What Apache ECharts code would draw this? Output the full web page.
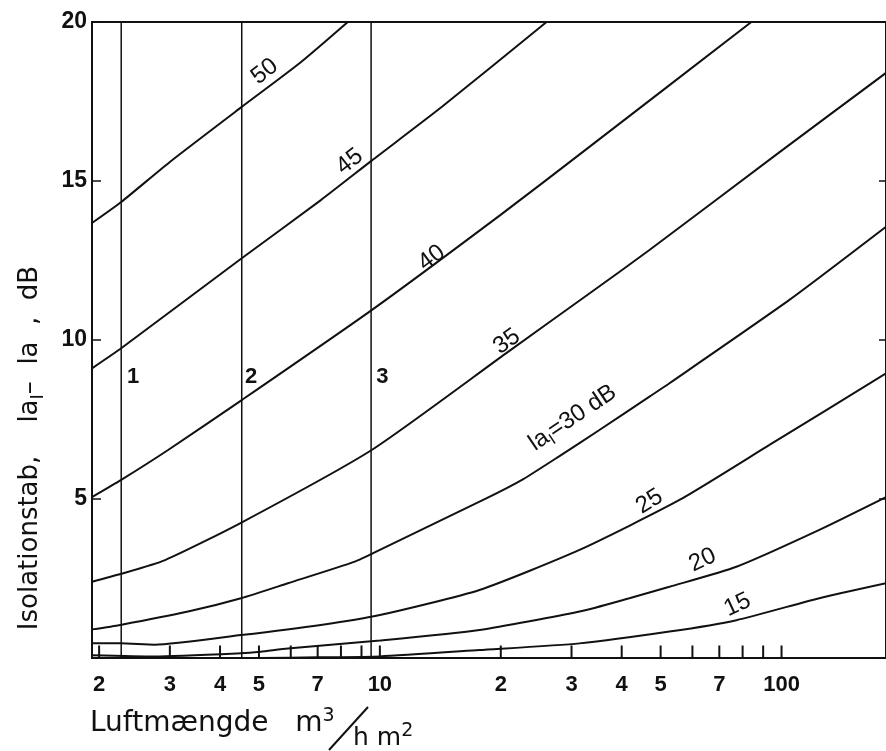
<!DOCTYPE html>
<html><head><meta charset="utf-8">
<script src="https://cdn.jsdelivr.net/npm/echarts@6/dist/echarts.min.js"></script>
<style>html,body{margin:0;padding:0;background:#fff}#c{width:886px;height:751px}</style>
</head><body><div id="c"></div>
<script>
// axis ranges
const xMin = 1.92, xMax = 182;
const yMin = 0, yMax = 20, yStep = 5;

// curves: [air amount m3/(h m2), insulation loss dB]
const curve50 = [[1.92,13.68],[2.27,14.34],[3.0,15.6],[4.53,17.33],[6.32,18.71],[8.32,20.0]];
const curve45 = [[1.92,9.11],[2.27,9.74],[4.53,12.57],[7.13,14.40],[9.54,15.64],[14.3,17.34],[26.0,20.0]];
const curve40 = [[1.92,5.06],[2.27,5.60],[2.97,6.54],[4.53,8.11],[9.54,10.94],[19.9,13.92],[33.3,16.08],[84.1,20.0]];
const curve35 = [[1.92,2.40],[2.26,2.64],[2.92,3.08],[4.51,4.25],[9.54,6.54],[20.6,9.58],[33.3,11.47],[46.9,12.83],[98.7,15.9],[182,18.4]];
const curve30 = [[1.92,0.90],[2.26,1.04],[3.33,1.46],[4.51,1.88],[5.90,2.35],[8.66,3.03],[10.0,3.40],[18.4,5.02],[22.7,5.62],[28.0,6.35],[35.2,7.17],[46.9,8.22],[52.6,8.64],[104.6,11.26],[182,13.56]];
const curve25 = [[1.92,0.46],[2.26,0.46],[2.75,0.42],[4.51,0.72],[7.13,1.04],[10.0,1.35],[17.7,2.14],[31.4,3.40],[55.7,4.97],[93.3,6.70],[182,8.95]];
const curve20 = [[1.92,0.09],[2.75,0.05],[4.51,0.15],[5.05,0.20],[5.90,0.30],[10.0,0.55],[17.7,0.88],[31.4,1.46],[41.8,1.88],[52.6,2.24],[77.2,2.87],[124.2,4.03],[182,5.06]];
const curve15 = [[5.0,0.0],[7.0,0.02],[10.0,0.05],[17.7,0.25],[31.4,0.46],[52.6,0.83],[77.2,1.19],[124.2,1.88],[182,2.35]];
const curves = [curve50, curve45, curve40, curve35, curve30, curve25, curve20, curve15];

// curve labels
const curveLabelText = ['50','45','40','35','{t|la}{s|I}{t|=30 dB}','25','20','15'];
const curveLabelX = [5.17, 8.41, 13.46, 20.7, 30.2, 46.9, 63.6, 77.7];
const curveLabelY = [18.44, 15.61, 12.58, 9.95, 7.55, 4.92, 3.08, 1.67];
const curveLabelAngle = [38, 38, 37, 36, 34, 32, 25, 25];

// vertical reference lines 1, 2, 3
const refLineX = [2.27, 4.53, 9.51];
const refLineText = ['1','2','3'];
const refLabelX = [2.43, 4.78, 10.14];
const refLabelY = 8.85;

// x-axis tick marks and labels
const tickValues = [2,3,4,5,6,7,8,9,10,20,30,40,50,60,70,80,90,100];
const tickText = ['2','3','4','5','','7','','','10','2','3','4','5','','7','','','100'];

const INK = '#111';
const chart = echarts.init(document.getElementById('c'), null, {renderer:'canvas'});

const series = [];
curves.forEach((c, i) => {
  series.push({type:'line', data:c, showSymbol:false, smooth:0.2,
    lineStyle:{color:INK, width:2}, silent:true, z:3});
});
refLineX.forEach(x => {
  series.push({type:'line', data:[[x,yMin],[x,yMax]], showSymbol:false,
    lineStyle:{color:INK, width:1.5}, silent:true, z:2});
});
series.push({
  type:'scatter', symbolSize:1, itemStyle:{color:'rgba(0,0,0,0)', opacity:1}, silent:true, z:5,
  data: curveLabelX.map((x,i)=>({value:[x, curveLabelY[i]],
    label:{rotate:curveLabelAngle[i]}})),
  label:{show:true, position:'inside', color:INK, fontSize:24, fontFamily:'Liberation Sans',
    formatter:p=>curveLabelText[p.dataIndex],
    rich:{t:{fontSize:24, fontFamily:'Liberation Sans', color:INK},
          s:{fontSize:16, fontFamily:'Liberation Sans', color:INK, padding:[14,0,0,0]}}}
});
series.push({
  type:'scatter', symbolSize:1, itemStyle:{color:'rgba(0,0,0,0)', opacity:1}, silent:true, z:5,
  data: refLabelX.map(x=>[x, refLabelY]),
  label:{show:true, position:'inside', color:INK, fontSize:22, fontWeight:'bold',
    fontFamily:'Liberation Sans', formatter:p=>refLineText[p.dataIndex]}
});
series.push({
  type:'scatter', symbol:'rect', symbolSize:[2,13], symbolOffset:[0,-6], clip:false,
  itemStyle:{color:INK, opacity:1}, silent:true, z:4,
  data: tickValues.map(v=>[v,0]),
  label:{show:true, position:'bottom', distance:15, color:INK, fontSize:22, fontWeight:'bold',
    fontFamily:'Liberation Sans', formatter:p=>tickText[p.dataIndex]}
});

chart.setOption({
  animation:false,
  backgroundColor:'#fff',
  grid:{left:92, top:22, right:-1, bottom:93, show:true, borderColor:INK, borderWidth:2,
    backgroundColor:'transparent', containLabel:false},
  xAxis:{type:'log', logBase:10, min:xMin, max:xMax,
    axisLine:{show:false}, axisTick:{show:false}, axisLabel:{show:false}, splitLine:{show:false}},
  yAxis:[
    {type:'value', min:yMin, max:yMax, interval:yStep,
      axisLine:{show:false}, splitLine:{show:false},
      axisTick:{show:true, inside:true, length:9, lineStyle:{color:INK, width:1.5}},
      axisLabel:{show:true, margin:5, color:INK, fontSize:23, fontWeight:'bold',
        fontFamily:'Liberation Sans', formatter:v=> v===0 ? '' : String(v)}},
    {type:'value', position:'right', min:yMin, max:yMax, interval:yStep,
      axisLine:{show:false}, splitLine:{show:false}, axisLabel:{show:false},
      axisTick:{show:true, inside:true, length:7, lineStyle:{color:INK, width:1.5}}}
  ],
  series: series,
  graphic:[
    {type:'text', x:30, y:448, rotation:Math.PI/2, silent:true,
      style:{text:'{t|Isolationstab,    la}{s|I}{t|–  la  ,  dB}', align:'center', verticalAlign:'middle',
        fill:INK,
        rich:{t:{fontSize:26, fontFamily:'DejaVu Sans', fill:INK, verticalAlign:'middle'},
              s:{fontSize:18, fontFamily:'DejaVu Sans', fill:INK, padding:[16,0,0,0]}}}},
    {type:'text', x:90, y:724, silent:true,
      style:{text:'{t|Luftmængde   m}{p|3}', verticalAlign:'middle', fill:INK,
        rich:{t:{fontSize:28, fontFamily:'DejaVu Sans', fill:INK},
              p:{fontSize:19, fontFamily:'DejaVu Sans', fill:INK, padding:[0,0,16,0]}}}},
    {type:'line', silent:true, shape:{x1:329, y1:750, x2:368, y2:707},
      style:{stroke:INK, lineWidth:2}},
    {type:'text', x:353, y:738, silent:true,
      style:{text:'{t|h m}{p|2}', verticalAlign:'middle', fill:INK,
        rich:{t:{fontSize:25, fontFamily:'DejaVu Sans', fill:INK},
              p:{fontSize:19, fontFamily:'DejaVu Sans', fill:INK, padding:[0,0,14,0]}}}}
  ]
});
</script></body></html>
